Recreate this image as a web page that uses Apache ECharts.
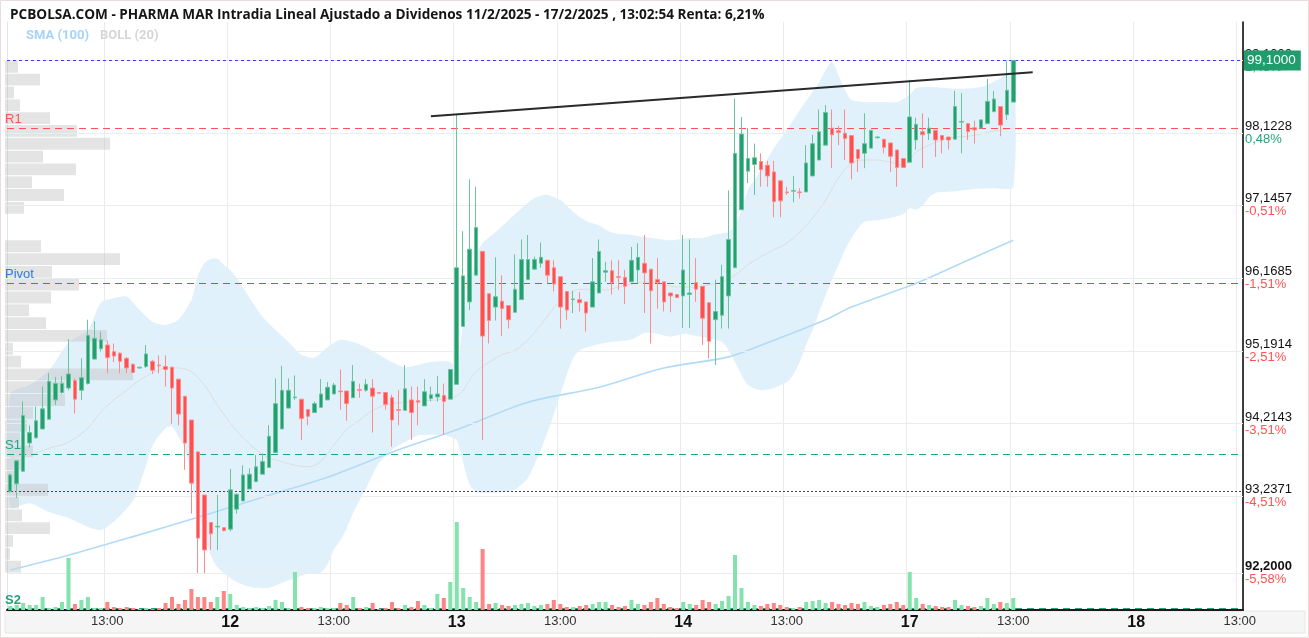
<!DOCTYPE html>
<html><head><meta charset="utf-8">
<script src="https://cdn.jsdelivr.net/npm/echarts@6/dist/echarts.min.js"></script>
<style>html,body{margin:0;padding:0;background:#fff}#c{width:1309px;height:638px}</style>
</head><body><div id="c"></div>
<script>
// ---------- DATA ----------
const sessions = [['11','09:15','17:30'],['12','09:00','17:30'],['13','09:00','17:30'],['14','09:00','17:30'],['17','09:00','17:30'],['18','09:00','13:00']];
const ohlc = [ // [open, close, low, high]
[93.30,93.52,93.28,93.54],[93.40,93.71,93.21,93.72],[93.57,94.32,93.56,94.51],[93.95,94.09,93.89,94.19],[94.02,94.25,94.01,94.44],
[94.14,94.41,94.13,94.71],[94.27,94.78,94.26,94.89],[94.53,94.75,94.46,94.84],[94.63,94.75,94.61,94.85],[94.69,94.88,94.66,95.35],
[94.79,94.54,94.35,94.82],[94.66,94.83,94.53,95.09],[94.75,95.40,94.74,95.61],[95.08,95.36,95.07,95.59],[95.22,95.34,95.18,95.45],
[95.27,95.10,94.89,95.33],[95.18,95.12,95.04,95.29],[95.16,95.05,94.89,95.17],[95.09,94.96,94.89,95.11],[95.01,94.90,94.89,95.02],
[94.96,94.97,94.95,94.98],[94.98,95.15,94.96,95.27],[95.05,94.93,94.88,95.07],[95.00,94.99,94.89,95.13],[94.98,94.94,94.71,95.13],
[94.97,94.69,94.21,94.98],[94.81,94.34,94.19,94.81],[94.58,93.95,93.59,94.58],[94.26,93.41,93.00,94.26],[93.83,92.67,92.20,93.84],
[93.25,92.51,92.20,93.25],[92.88,92.73,92.51,92.88],[92.82,92.83,92.51,93.25],[92.81,92.77,92.76,92.81],[92.79,93.32,92.76,93.60],
[93.06,93.26,93.00,93.27],[93.17,93.52,93.17,93.65],[93.33,93.53,93.33,93.61],[93.43,93.63,93.43,93.79],[93.53,93.70,93.53,93.81],
[93.62,94.04,93.62,94.19],[93.82,94.48,93.82,94.82],[94.14,94.66,94.14,94.99],[94.42,94.66,94.42,94.82],[94.56,94.57,94.53,94.86],
[94.54,94.28,93.99,94.54],[94.40,94.31,94.19,94.40],[94.36,94.48,94.36,94.51],[94.43,94.61,94.43,94.81],[94.53,94.70,94.53,94.77],
[94.61,94.73,94.61,94.76],[94.65,94.64,94.40,94.94],[94.65,94.48,94.25,94.65],[94.56,94.78,94.56,95.00],[94.67,94.66,94.56,94.75],
[94.66,94.74,94.64,94.81],[94.69,94.58,94.09,94.81],[94.63,94.62,94.61,94.64],[94.63,94.47,94.40,94.63],[94.56,94.26,93.90,94.60],
[94.40,94.39,94.19,94.66],[94.39,94.68,94.39,95.00],[94.53,94.36,93.99,94.71],[94.52,94.50,94.19,94.71],[94.45,94.64,94.45,94.81],
[94.55,94.60,94.51,94.71],[94.57,94.61,94.51,94.85],[94.59,94.51,94.06,94.75],[94.54,94.94,94.54,94.94],[94.74,96.31,94.74,98.38],
[95.52,96.20,95.52,96.80],[95.85,96.56,95.74,97.50],[96.21,96.85,96.21,97.40],[96.53,95.39,93.99,96.53],[95.96,95.60,95.29,95.96],
[95.78,95.92,95.60,96.45],[95.86,95.76,95.39,96.21],[95.80,95.61,95.49,95.80],[95.71,96.02,95.71,96.49],[95.88,96.42,95.88,96.69],
[96.15,96.42,96.15,96.75],[96.29,96.42,96.29,96.46],[96.37,96.45,96.31,96.65],[96.41,96.21,96.10,96.41],[96.31,96.09,95.99,96.41],
[96.19,95.78,95.49,96.19],[95.99,95.74,95.61,95.99],[95.88,95.89,95.70,96.00],[95.88,95.84,95.72,95.98],[95.85,95.70,95.45,95.85],
[95.78,96.12,95.78,96.44],[95.97,96.53,95.97,96.69],[96.25,96.27,96.12,96.39],[96.27,96.11,95.95,96.41],[96.19,96.18,96.01,96.41],
[96.18,96.06,95.82,96.28],[96.12,96.41,96.12,96.59],[96.28,96.45,96.11,96.64],[96.37,96.24,95.70,96.75],[96.29,96.00,95.29,96.29],
[96.15,96.11,95.76,96.44],[96.12,95.85,95.72,96.12],[95.97,95.93,95.71,95.97],[95.95,95.91,95.90,95.95],[95.93,96.28,95.50,96.75],
[95.95,95.97,95.50,96.69],[96.11,96.02,95.85,96.44],[96.06,95.63,95.27,96.06],[95.84,95.32,95.09,95.84],[95.61,95.72,95.00,96.15],
[95.67,96.19,95.49,96.35],[95.93,96.69,95.49,97.35],[96.31,97.85,96.31,98.59],[97.09,98.11,97.09,98.34],[97.61,97.78,97.45,98.19],
[97.70,97.79,97.29,97.98],[97.74,97.63,97.40,97.85],[97.69,97.545,97.40,97.75],[97.60,97.20,96.99,97.75],[97.48,97.21,96.99,97.48],
[97.33,97.32,97.29,97.40],[97.34,97.35,97.19,97.545],[97.33,97.32,97.24,97.38],[97.33,97.72,97.33,97.96],[97.545,97.98,97.545,98.10],
[97.76,98.14,97.76,98.44],[97.96,98.40,97.96,98.50],[98.19,98.10,97.65,98.44],[98.155,98.13,97.96,98.22],[98.12,98.05,97.76,98.44],
[98.09,97.72,97.50,98.09],[97.90,97.78,97.60,97.90],[97.85,97.98,97.65,98.39],[97.92,98.16,97.92,98.16],[98.06,98.07,98.05,98.08],
[98.04,97.93,97.85,98.04],[97.99,97.81,97.60,97.99],[97.895,97.66,97.40,97.895],[97.78,97.66,97.65,97.78],[97.73,98.34,97.73,98.84],
[98.03,98.24,97.90,98.33],[98.14,98.10,97.65,98.39],[98.12,98.19,98.03,98.33],[98.16,98.03,97.80,98.16],[98.09,98.03,97.85,98.09],
[98.07,98.03,97.90,98.07],[98.04,98.48,98.04,98.69],[98.27,98.28,97.85,98.66],[98.25,98.14,98.03,98.25],[98.195,98.165,97.98,98.29],
[98.19,98.30,98.19,98.30],[98.25,98.55,98.25,98.85],[98.41,98.58,98.41,98.69],[98.48,98.23,98.08,98.48],[98.37,98.70,98.30,99.10],
[98.54,99.10,98.54,99.10]
];
const volume = [
4,5,7,5,5,13,2,3,8,52, 6,10,13,2,2,8,3,2,3,2, 1,2,1,2,7,13,6,10,21,13, 13,8,13,19,16,5,3,2,3,2,
4,10,8,2,38,3,2,2,3,2, 2,7,5,13,2,3,7,1,2,8, 2,5,3,9,5,2,16,12,28,88, 22,13,8,61,6,7,5,4,5,6,
7,4,5,6,10,6,3,3,4,5, 6,8,8,5,3,4,10,6,5,8, 12,6,3,2,8,6,5,10,8,6, 9,14,55,22,8,5,4,6,7,5,
3,2,3,8,9,10,7,8,6,5, 7,6,8,4,3,5,6,8,5,38, 12,6,5,4,3,3,10,5,4,3, 4,12,6,8,7,12
];
// price-level volume profile: 40 bins from 99.10 down to 92.20
const profileTop = 99.1, profileBottom = 92.2;
const profile = [13,35,9,15,45,72,105,38,71,27, 59,19,0,0,36,115,47,74,46,24, 41,102,8,16,128,60,60,28,22,15, 28,20,10,43,14,17,45,8,5,16];
// Bollinger (20) and SMA (100): [barIndex, price]
const bollUpper = [[0,94.61],[3,94.73],[6,94.93],[9,95.30],[12,95.47],[14,95.84],[16,95.90],[18,95.92],[20,95.74],[22,95.58],[24,95.54],[26,95.61],[28,95.88],[29,96.21],[30,96.37],[31,96.43],[32,96.43],[33,96.35],[34,96.28],[35,96.17],[37,95.90],[39,95.65],[41,95.47],[43,95.31],[45,95.14],[47,95.10],[49,95.24],[51,95.34],[53,95.31],[55,95.24],[57,95.14],[59,95.04],[61,94.97],[63,95.00],[65,95.04],[68,95.04],[69,94.93],[70,95.61],[71,96.08],[72,96.48],[73,96.64],[75,96.79],[77,96.95],[79,97.11],[81,97.25],[83,97.29],[85,97.22],[87,97.06],[89,96.94],[91,96.88],[93,96.78],[96,96.75],[99,96.71],[102,96.68],[105,96.71],[107,96.71],[109,96.76],[111,96.79],[112,96.87],[113,97.09],[114,97.36],[115,97.49],[116,97.63],[118,97.92],[120,98.16],[122,98.43],[124,98.68],[125,98.81],[126,98.97],[127,99.08],[128,98.90],[129,98.70],[130,98.57],[132,98.54],[135,98.54],[137,98.54],[139,98.64],[140,98.73],[143,98.74],[146,98.72],[149,98.73],[151,98.77],[153,98.86],[155,98.97]];
const bollLower = [[0,93.09],[3,93.14],[6,93.02],[9,92.94],[12,92.82],[14,92.78],[16,92.89],[19,93.18],[21,93.65],[22,93.92],[24,94.15],[25,94.17],[27,93.86],[28,93.45],[29,93.05],[30,92.71],[31,92.44],[32,92.28],[34,92.13],[36,92.04],[38,92.00],[40,92.00],[42,92.07],[44,92.13],[46,92.19],[48,92.21],[49,92.31],[50,92.51],[51,92.64],[52,92.80],[53,93.01],[54,93.18],[55,93.34],[56,93.52],[57,93.68],[59,93.86],[61,93.96],[63,94.05],[65,94.06],[67,94.06],[68,94.03],[69,93.99],[70,93.68],[71,93.39],[72,93.29],[74,93.28],[76,93.29],[78,93.32],[79,93.39],[80,93.48],[81,93.66],[82,93.86],[83,94.09],[84,94.33],[85,94.60],[86,94.87],[87,95.09],[88,95.20],[90,95.26],[92,95.30],[94,95.32],[96,95.34],[98,95.43],[100,95.42],[102,95.38],[104,95.42],[106,95.39],[108,95.36],[110,95.31],[111,95.20],[112,95.04],[113,94.87],[114,94.73],[116,94.66],[118,94.69],[120,94.77],[121,94.87],[122,95.04],[123,95.27],[124,95.47],[125,95.71],[126,95.94],[127,96.15],[128,96.35],[129,96.55],[130,96.71],[131,96.84],[132,96.93],[134,96.95],[136,96.98],[138,97.03],[139,97.11],[140,97.09],[141,97.15],[142,97.26],[143,97.32],[146,97.34],[149,97.37],[152,97.38],[155,97.40]];
const bollMid = [[0,93.75],[3,93.79],[6,93.88],[9,93.96],[12,94.15],[14,94.37],[16,94.53],[18,94.66],[20,94.80],[22,94.89],[24,94.96],[26,94.96],[28,94.91],[30,94.73],[32,94.46],[34,94.22],[36,94.02],[38,93.86],[40,93.75],[42,93.70],[44,93.65],[46,93.63],[48,93.70],[50,93.92],[52,94.13],[54,94.26],[56,94.39],[58,94.46],[60,94.49],[62,94.50],[64,94.52],[66,94.53],[68,94.56],[69,94.58],[70,94.66],[71,94.80],[72,94.91],[74,95.04],[76,95.14],[78,95.20],[80,95.34],[82,95.54],[84,95.77],[86,95.94],[88,96.02],[90,96.02],[92,96.01],[94,96.05],[96,96.09],[98,96.12],[100,96.10],[102,96.06],[104,96.05],[106,96.05],[108,96.08],[110,96.12],[112,96.21],[114,96.35],[116,96.46],[118,96.55],[120,96.64],[122,96.79],[124,96.98],[126,97.22],[128,97.52],[130,97.72],[132,97.76],[134,97.76],[136,97.73],[138,97.69],[139,97.76],[140,97.87],[142,97.96],[144,98.03],[146,98.07],[148,98.08],[150,98.11],[152,98.15],[155,98.19]];
const sma100 = [[0,92.24],[9,92.44],[19,92.69],[29,92.95],[39,93.22],[49,93.49],[60,93.86],[69,94.13],[80,94.50],[91,94.70],[101,94.96],[111,95.11],[117,95.30],[126,95.61],[130,95.78],[140,96.10],[148,96.41],[155,96.68]];
const trendLine = [[65,98.35],[158,98.94]];
// right axis ticks
const tickValues = [99.1, 98.1228, 97.1457, 96.1685, 95.1914, 94.2143, 93.2371, 92.2];
const tickLabels = ['99,1000','98,1228','97,1457','96,1685','95,1914','94,2143','93,2371','92,2000'];
const tickPct = ['1,48%','0,48%','-0,51%','-1,51%','-2,51%','-3,51%','-4,51%','-5,58%'];
const levels = [['R1',98.19],['Pivot',96.10],['S1',93.80],['S2',91.72]];
const lastPrice = 99.10, lastLabel = '99,1000', refClose = 93.30;
const title = 'PCBOLSA.COM - PHARMA MAR Intradia Lineal Ajustado a Dividenos 11/2/2025 - 17/2/2025 , 13:02:54 Renta: 6,21%';

// ---------- BUILD ----------
function toMin(s){const [h,m]=s.split(':').map(Number);return h*60+m;}
function fmt(t){return String(Math.floor(t/60)).padStart(2,'0')+':'+String(t%60).padStart(2,'0');}
const categories = [];
sessions.forEach(([d,a,b])=>{for(let t=toMin(a);t<=toMin(b);t+=15)categories.push(d+'|'+fmt(t));});

const GREEN='#22a06f', RED='#ff5050', GREEN_W='#6cc49e', RED_W='#ff8c8c';
const VGREEN='#84e3ad', VRED='#ff8585';
const yMin=91.702, yMax=99.618;

const isLabelCat=(v)=>{const t=v.split('|')[1];return t==='09:00'||t==='13:00';};

const chart = echarts.init(document.getElementById('c'), null, {renderer:'canvas'});
const levelColors = {R1:'#ff5252',Pivot:'#2b7de0',S1:'#26a27a',S2:'#26a27a'};

const option = {
  animation:false,
  backgroundColor:'#ffffff',
  title:{text:title,left:5,top:3,textStyle:{fontFamily:'Open Sans',fontSize:13.6,fontWeight:'bold',color:'#151515'}},
  legend:{left:16,top:24,icon:'none',itemWidth:0,itemGap:6,selectedMode:false,
    textStyle:{fontFamily:'Roboto',fontSize:13,fontWeight:'bold'},
    data:[{name:'SMA (100)',textStyle:{color:'#a7d4f6'}},{name:'BOLL (20)',textStyle:{color:'#d6d6d6'}}]},
  graphic:[
    {type:'rect',z:-10,shape:{x:5,y:611,width:1300,height:22},style:{fill:'#f5f5f5',stroke:'#e6e6e6'}},
    {type:'rect',z:-20,shape:{x:0.5,y:0.5,width:1308,height:637},style:{fill:'none',stroke:'#eadcdc'}}
  ],
  grid:[
    {left:7,right:66,top:22,bottom:28},
    {left:7,right:66,bottom:28,height:100},
    {left:5,right:66,top:22,bottom:28}
  ],
  xAxis:[
    {type:'category',gridIndex:0,data:categories,boundaryGap:true,
      axisLine:{show:true,lineStyle:{color:'#1a1a1a',width:2}},axisTick:{show:false},
      axisLabel:{interval:(i,v)=>isLabelCat(v),margin:5,fontFamily:'Liberation Sans',fontSize:13,color:'#333',
        formatter:(v)=>{const [d,t]=v.split('|');return t==='09:00'?'{d|'+d+'}':t;},
        rich:{d:{fontFamily:'Liberation Sans',fontSize:16,fontWeight:'bold',color:'#111'}}},
      splitLine:{show:true,interval:(i,v)=>isLabelCat(v),lineStyle:{color:'#ebebeb',width:1}}},
    {type:'category',gridIndex:1,data:categories,boundaryGap:true,show:false},
    {type:'value',gridIndex:2,min:0,max:1238,show:false}
  ],
  yAxis:[
    {type:'value',gridIndex:0,position:'right',min:yMin,max:yMax,scale:true,
      axisLine:{show:true,lineStyle:{color:'#000',width:1.5}},axisTick:{show:false},axisLabel:{show:false},splitLine:{show:false}},
    {type:'value',gridIndex:0,position:'left',min:yMin,max:yMax,scale:true,
      axisLine:{show:true,lineStyle:{color:'#e4e4e4',width:1}},axisTick:{show:false},axisLabel:{show:false},splitLine:{show:false}},
    {type:'value',gridIndex:1,min:0,max:100,show:false},
    {type:'value',gridIndex:2,min:yMin,max:yMax,show:false}
  ],
  series:[
    // horizontal grid lines + right labels
    {type:'line',name:'ticks',xAxisIndex:0,yAxisIndex:0,z:1,silent:true,data:ohlc.map(()=>null),
      markLine:{symbol:'none',silent:true,animation:false,
        data:tickValues.map((v,k)=>({yAxis:v,lineStyle:{color:'#ececec',width:1,type:'solid'},
          label:{show:true,position:'end',distance:2,
            formatter:'{'+(k===tickValues.length-1?'pb':'p')+'|'+tickLabels[k]+'}\n{'+(tickPct[k].startsWith('-')?'n':'g')+'|'+tickPct[k]+'}',
            rich:{p:{fontFamily:'Liberation Sans',fontSize:13,color:'#111',lineHeight:13},
                  pb:{fontFamily:'Liberation Sans',fontSize:13,color:'#111',fontWeight:'bold',lineHeight:13},
                  g:{fontFamily:'Liberation Sans',fontSize:13,color:'#26a27a',lineHeight:13},
                  n:{fontFamily:'Liberation Sans',fontSize:13,color:'#ff5252',lineHeight:13}}}}))}},
    // Bollinger band fill
    {type:'custom',name:'BOLL (20)',xAxisIndex:0,yAxisIndex:0,z:2,silent:true,data:[[0,95]],
      itemStyle:{color:'#d6d6d6'},
      renderItem:(params,api)=>{
        const pts=bollUpper.map(d=>api.coord(d)).concat(bollLower.slice().reverse().map(d=>api.coord(d)));
        return {type:'polygon',shape:{points:pts,smooth:0.25},style:{fill:'#e1f1fc'}};
      }},
    // volume profile
    {type:'custom',name:'profile',xAxisIndex:2,yAxisIndex:3,z:3,silent:true,
      data:profile.map((w,k)=>[w,k]),
      renderItem:(params,api)=>{
        const w=api.value(0),k=api.value(1),bin=(profileTop-profileBottom)/profile.length;
        const top=profileTop-bin*k,bot=top-bin;
        const p1=api.coord([0,top]),p2=api.coord([w,bot]);
        return {type:'rect',shape:{x:p1[0],y:p1[1]+0.5,width:p2[0]-p1[0],height:p2[1]-p1[1]-1},style:{fill:'rgba(190,190,190,0.42)'}};
      }},
    {type:'line',name:'BOLL (20)',xAxisIndex:0,yAxisIndex:0,z:4,data:bollMid,showSymbol:false,smooth:0.3,
      lineStyle:{color:'#dddddd',width:1},itemStyle:{color:'#d6d6d6'}},
    {type:'line',name:'SMA (100)',xAxisIndex:0,yAxisIndex:0,z:4,data:sma100,showSymbol:false,smooth:0.3,
      lineStyle:{color:'#b2dbf8',width:1.6},itemStyle:{color:'#a9d6f7'}},
    // pivot levels
    {type:'line',name:'levels',xAxisIndex:0,yAxisIndex:0,z:5,silent:true,data:ohlc.map(()=>null),
      markLine:{symbol:'none',silent:true,animation:false,
        data:levels.map(([n,v])=>({yAxis:v,lineStyle:{color:levelColors[n],width:1,type:[7,5]},
          label:{show:true,position:'insideStartTop',distance:[-2,2],formatter:n,color:levelColors[n],
            fontFamily:'Liberation Sans',fontSize:13,fontWeight:n==='S2'?'bold':'normal'}})).concat([
          {yAxis:refClose,lineStyle:{color:'#444',width:1,type:[2,2]},label:{show:false}}])}},
    {type:'candlestick',name:'PHARMA MAR',xAxisIndex:0,yAxisIndex:0,z:6,data:ohlc,barWidth:4,
      itemStyle:{color:GREEN,color0:RED,borderColor:GREEN_W,borderColor0:RED_W,borderColorDoji:GREEN_W,borderWidth:1}},
    {type:'line',name:'trend',xAxisIndex:0,yAxisIndex:0,z:7,data:trendLine,showSymbol:false,
      lineStyle:{color:'#2a2a2a',width:2}},
    {type:'bar',name:'Volumen',xAxisIndex:1,yAxisIndex:2,z:5,barWidth:4,
      data:volume.map((v,i)=>({value:v,itemStyle:{color:ohlc[i][1]>=ohlc[i][0]?VGREEN:VRED}}))},
    // last price
    {type:'line',name:'last',xAxisIndex:0,yAxisIndex:0,z:20,silent:true,data:ohlc.map(()=>null),
      markLine:{symbol:'none',silent:true,animation:false,
        data:[{yAxis:lastPrice,lineStyle:{color:'#3b3bf5',width:1,type:[3,3]},
          label:{show:true,position:'end',distance:1,formatter:lastLabel,color:'#fff',backgroundColor:'#1f9d6c',
            padding:[3,5,3,3],fontFamily:'Liberation Sans',fontSize:13.5}}]}}
  ]
};
chart.setOption(option);
</script>
</body></html>
